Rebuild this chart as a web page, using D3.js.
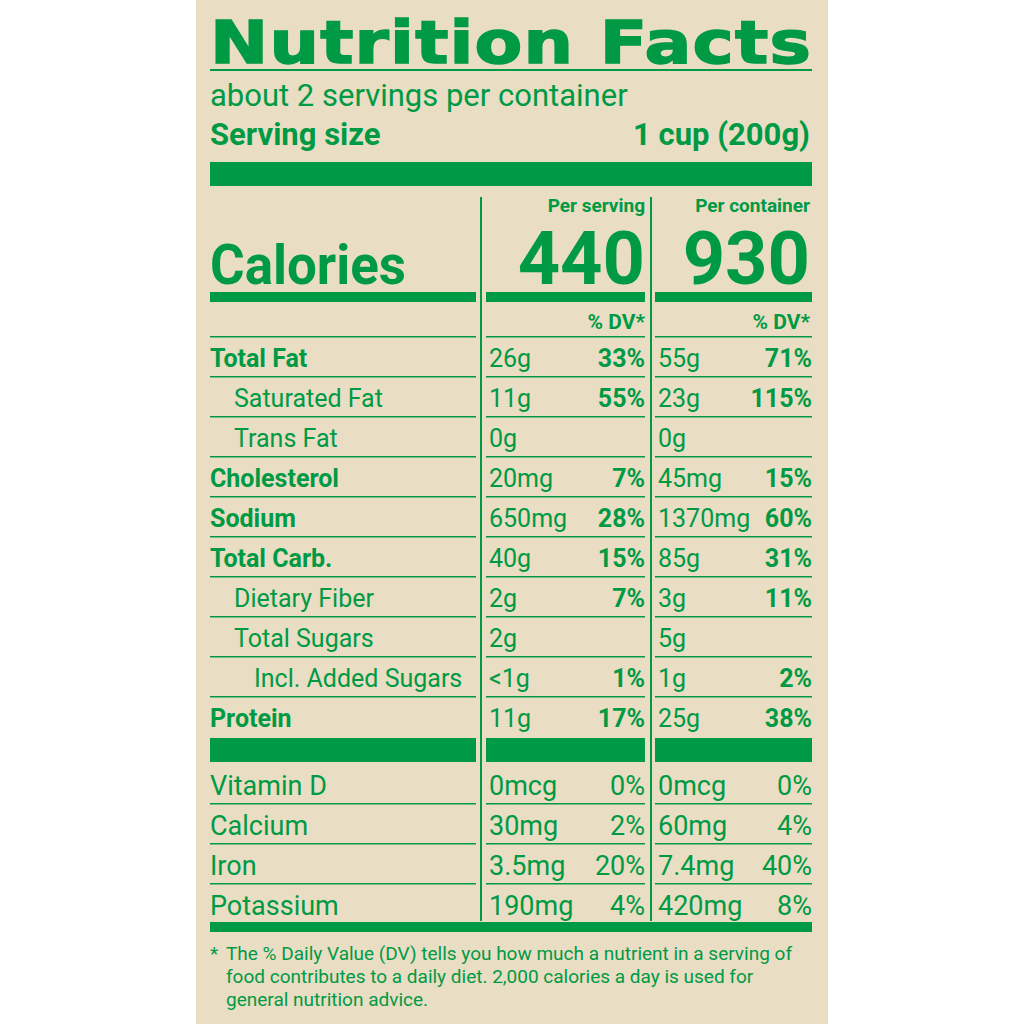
<!DOCTYPE html><html><head><meta charset="utf-8">
<script src="https://cdn.jsdelivr.net/npm/d3@7"></script>
<style>body{margin:0;background:#fff}svg{display:block}</style></head><body>
<script>
const labels=["Total Fat","Saturated Fat","Trans Fat","Cholesterol","Sodium","Total Carb.","Dietary Fiber","Total Sugars","Incl. Added Sugars","Protein"];
const indent=[0,1,1,0,0,0,1,1,2,0];
const servAmt=["26g","11g","0g","20mg","650mg","40g","2g","2g","<1g","11g"];
const servDV=["33%","55%","","7%","28%","15%","7%","","1%","17%"];
const contAmt=["55g","23g","0g","45mg","1370mg","85g","3g","5g","1g","25g"];
const contDV=["71%","115%","","15%","60%","31%","11%","","2%","38%"];
const vitLabels=["Vitamin D","Calcium","Iron","Potassium"];
const vitServAmt=["0mcg","30mg","3.5mg","190mg"];
const vitServDV=["0%","2%","20%","4%"];
const vitContAmt=["0mcg","60mg","7.4mg","420mg"];
const vitContDV=["0%","4%","40%","8%"];
const G="#009a44",F="'Liberation Sans Narrow','Arial Narrow',Roboto,sans-serif";
const svg=d3.select("body").append("svg").attr("width",1024).attr("height",1024);
svg.append("rect").attr("x",196).attr("y",0).attr("width",632).attr("height",1024).attr("fill","#e9ddc4");
function t(x,y,s,sz,w,a,fam,ls){return svg.append("text").attr("x",x).attr("y",y).text(s).attr("font-size",sz).attr("font-weight",w||"normal").attr("text-anchor",a||"start").attr("fill",G).attr("font-family",fam||F).attr("letter-spacing",ls||0);}
function r(x,y,w,h){svg.append("rect").attr("x",x).attr("y",y).attr("width",w).attr("height",h).attr("fill",G);}
t(210,63,"Nutrition Facts",58,900,"start","'DejaVu Sans',sans-serif",1).attr("textLength",602).attr("lengthAdjust","spacingAndGlyphs").attr("stroke",G).attr("stroke-width",1.5);
r(210,69,602,2);
t(210,106,"about 2 servings per container",31,"normal","start","Roboto,sans-serif").attr("font-weight",400);
t(210,145,"Serving size",31,"bold","start","Roboto,sans-serif");
t(810,145,"1 cup (200g)",31,"bold","end","Roboto,sans-serif");
r(210,162,602,24);
r(480,197,2,724);r(650,197,2,724);
const cols=[[210,476],[486,645],[655,812]];
t(645,212,"Per serving",19,"bold","end","Roboto,sans-serif");
t(810,212,"Per container",19,"bold","end","Roboto,sans-serif");
t(210,284,"Calories",56,"bold","start",F).attr("textLength",196).attr("lengthAdjust","spacingAndGlyphs");
t(645,284,"440",74,"bold","end",F);
t(810,284,"930",74,"bold","end",F);
cols.forEach(c=>r(c[0],292,c[1]-c[0],10));
const y=d3.scaleLinear().domain([0,1]).range([336,376]);
function hl(yy){cols.forEach(c=>r(c[0],yy,c[1]-c[0],1.5));}
hl(y(0));
t(645,329,"% DV*",21,"bold","end","Roboto,sans-serif");t(810,329,"% DV*",21,"bold","end","Roboto,sans-serif");
const RF="Roboto,sans-serif";
labels.forEach((l,i)=>{const b=y(i)+31,bold=indent[i]==0;
 t(210+[0,24,44][indent[i]],b,l,25,bold?"bold":"normal","start",RF);
 t(489,b,servAmt[i],25,"normal","start",RF);t(645,b,servDV[i],25,"bold","end",RF);
 t(658,b,contAmt[i],25,"normal","start",RF);t(812,b,contDV[i],25,"bold","end",RF);
 if(i<labels.length-1)hl(y(i+1));});
cols.forEach(c=>r(c[0],738,c[1]-c[0],24));
const yv=d3.scaleLinear().domain([0,1]).range([763,803]);
vitLabels.forEach((l,i)=>{const b=yv(i)+32;
 t(210,b,l,27,"normal","start",RF);
 t(489,b,vitServAmt[i],27,"normal","start",RF);t(645,b,vitServDV[i],27,"normal","end",RF);
 t(658,b,vitContAmt[i],27,"normal","start",RF);t(812,b,vitContDV[i],27,"normal","end",RF);
 if(i<3)hl(yv(i+1));});
r(210,922,602,10);
t(210,960,"*",19,"normal","start",RF);
t(226,960,"The % Daily Value (DV) tells you how much a nutrient in a serving of",19,"normal","start",RF);
t(226,983,"food contributes to a daily diet. 2,000 calories a day is used for",19,"normal","start",RF);
t(226,1006,"general nutrition advice.",19,"normal","start",RF);
</script></body></html>
